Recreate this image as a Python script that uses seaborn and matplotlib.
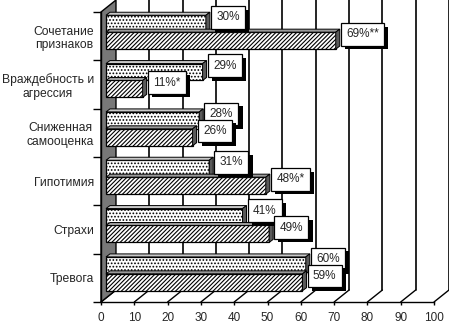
import pandas as pd
import seaborn as sns
import matplotlib.pyplot as plt
import matplotlib.patheffects as pe
from matplotlib.patches import Polygon
from matplotlib.transforms import Affine2D

categories = ['Сочетание\nпризнаков', 'Враждебность и\nагрессия', 'Сниженная\nсамооценка',
              'Гипотимия', 'Страхи', 'Тревога']
series = ['группа 1', 'группа 2']
values_1 = [30, 29, 28, 31, 41, 60]
values_2 = [69, 11, 26, 48, 49, 59]
marks_1 = ['', '', '', '', '', '']
marks_2 = ['**', '*', '', '*', '', '']
xticks = list(range(0, 101, 10))

sns.set_style('white')
plt.rcParams['font.family'] = ['Liberation Sans', 'DejaVu Sans']
plt.rcParams['hatch.linewidth'] = 0.8

df = pd.DataFrame({
    'category': categories * 2,
    'series': [series[0]] * 6 + [series[1]] * 6,
    'value': values_1 + values_2,
})

fig = plt.figure(figsize=(4.49, 3.24), dpi=100)
ax = fig.add_axes([101 / 449, 22 / 324, 333 / 449, 290 / 324])

sns.barplot(data=df, x='value', y='category', hue='series', orient='h',
            palette=['white', 'white'], edgecolor='black', linewidth=0.9,
            width=0.7, legend=False, ax=ax, zorder=3)

ax.set_xlim(0, 100)
ax.set_ylim(5.5, -0.5)

# 3d look: depth of the back wall and of the bars (data units)
DX, DY = 4.5, 0.248
BX, BY = 1.5, 0.083
SX, SY = 1.2, 0.062

# left wall
ax.add_patch(Polygon([(0, 5.5), (DX, 5.5 - DY), (DX, -0.5 - DY), (0, -0.5)], closed=True,
                     facecolor='#787878', edgecolor='black', lw=1, clip_on=False, zorder=1))
# back grid lines and floor lines
for t in xticks[1:]:
    ax.plot([t + DX, t + DX], [5.5 - DY, -0.5 - DY], color='black', lw=1.2, clip_on=False, zorder=0.5)
for t in xticks:
    ax.plot([t, t + DX], [5.5, 5.5 - DY], color='black', lw=1, clip_on=False, zorder=0.5)

shift = Affine2D().translate(BX, -BY) + ax.transData
vals = [values_1, values_2]
marks = [marks_1, marks_2]
for p in list(ax.patches):
    if not hasattr(p, 'get_width') or p.get_height() > 1:
        continue
    yc = p.get_y() + p.get_height() / 2
    ci = int(round(yc))
    si = 0 if yc < ci else 1
    p.set_hatch('.....' if si == 0 else '////////')
    p.set_transform(shift)
    a = p.get_x() + BX
    b = p.get_x() + p.get_width() + BX
    yt = p.get_y() - BY
    yb = yt + p.get_height()
    top_col = '#c8c8c8' if si == 0 else '#9a9a9a'
    ax.add_patch(Polygon([(a, yt), (b, yt), (b + SX, yt - SY), (a + SX, yt - SY)], closed=True,
                         facecolor=top_col, edgecolor='black', lw=0.7, zorder=3, clip_on=False))
    ax.add_patch(Polygon([(b, yt), (b + SX, yt - SY), (b + SX, yb - SY), (b, yb)], closed=True,
                         facecolor='#5a5a5a', edgecolor='black', lw=0.7, zorder=3, clip_on=False))
    v = vals[si][ci]
    txt = ax.annotate(f'{v}%{marks[si][ci]}', xy=(b, yc - BY), xytext=(7.5, 4.5),
                      textcoords='offset points', ha='left', va='center', fontsize=8.5,
                      zorder=6, annotation_clip=False,
                      bbox=dict(boxstyle='square,pad=0.45', facecolor='white',
                                edgecolor='black', lw=0.9))
    txt.get_bbox_patch().set_path_effects(
        [pe.SimplePatchShadow(offset=(3, -2.5), shadow_rgbFace='black', alpha=1.0), pe.Normal()])

ax.set_xticks(xticks)
ax.set_xticklabels([str(t) for t in xticks], fontsize=8.5)
ax.set_yticks(range(len(categories)))
ax.set_yticklabels(categories, fontsize=8.7)
for lbl in ax.get_yticklabels():
    lbl.set_multialignment('center')
ax.set_yticks([i + 0.5 for i in range(-1, 6)], minor=True)
ax.tick_params(axis='y', which='major', length=0, pad=5)
ax.tick_params(axis='y', which='minor', length=5.5, width=1, direction='out', color='black', left=True)
ax.tick_params(axis='x', length=2.5, width=1, direction='out', color='black', pad=5, bottom=True)
ax.set_xlabel('')
ax.set_ylabel('')
for side in ['top', 'right']:
    ax.spines[side].set_visible(False)
for side in ['left', 'bottom']:
    ax.spines[side].set_color('black')
    ax.spines[side].set_linewidth(1)
ax.patch.set_alpha(0)

fig.savefig('out.png', dpi=100)
